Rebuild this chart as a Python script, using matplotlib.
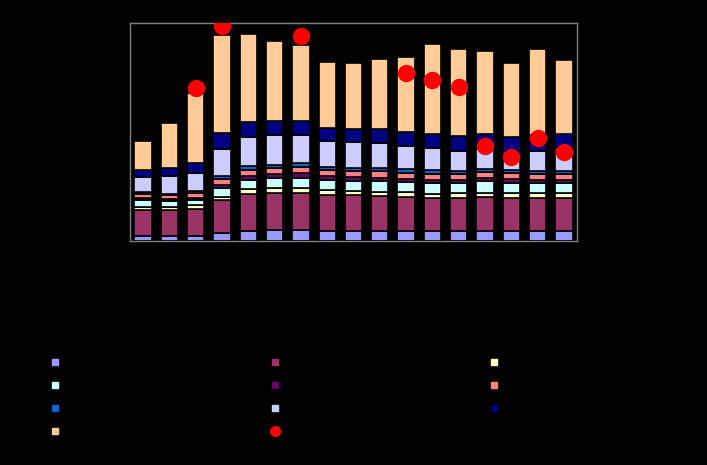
import numpy as np
import matplotlib
matplotlib.use("Agg")
import matplotlib.pyplot as plt
from matplotlib.lines import Line2D

# ---------------------------------------------------------------------------
# Data (y axis scaled 0-100)
# ---------------------------------------------------------------------------
categories = [str(y) for y in range(1990, 2007)]

series_names = ["Series 1", "Series 2", "Series 3", "Series 4", "Series 5",
                "Series 6", "Series 7", "Series 8", "Series 9", "Series 10"]
dot_name = "Series 11"

s1 = [2.5, 2.5, 2.5, 3.8, 4.8, 5.0, 5.0, 4.8, 4.8, 4.8, 4.8, 4.8, 4.8, 4.8, 4.8, 4.8, 4.8]
s2 = [11.7, 11.5, 12.1, 15.1, 16.8, 17.2, 17.1, 16.4, 16.3, 15.9, 15.6, 15.0, 15.1, 15.3, 15.1, 15.1, 15.1]
s3 = [1.5, 1.7, 1.7, 1.5, 2.1, 2.1, 2.1, 2.1, 2.0, 1.9, 1.9, 1.7, 1.9, 1.9, 2.2, 1.9, 1.9]
s4 = [3.2, 2.7, 2.7, 4.0, 4.3, 4.5, 4.8, 4.5, 4.5, 4.8, 4.7, 5.1, 4.8, 5.5, 4.6, 4.8, 4.8]
s5 = [0.8, 0.8, 0.8, 1.5, 1.9, 1.8, 2.0, 1.8, 1.7, 1.7, 1.5, 1.6, 1.4, 1.5, 1.6, 1.4, 1.4]
s6 = [1.9, 1.9, 2.4, 2.6, 2.8, 2.8, 3.0, 2.8, 2.8, 2.8, 2.9, 2.7, 2.6, 2.6, 2.7, 2.6, 2.6]
s7 = [0.8, 0.6, 0.7, 1.5, 1.8, 1.6, 1.6, 1.7, 1.6, 1.4, 1.4, 1.6, 1.7, 1.4, 1.6, 1.7, 1.7]
s8 = [7.0, 7.9, 8.5, 12.1, 13.3, 13.5, 13.0, 11.7, 11.7, 11.8, 11.0, 10.0, 9.2, 9.1, 8.3, 8.9, 10.5]
s9 = [3.3, 4.0, 4.5, 7.4, 6.6, 6.6, 6.6, 6.2, 6.2, 6.2, 6.3, 6.6, 6.8, 7.1, 7.0, 7.6, 6.1]
s10 = [13.1, 20.3, 32.2, 45.0, 40.5, 36.5, 34.6, 29.9, 29.9, 32.1, 34.5, 41.2, 39.6, 37.8, 33.7, 39.4, 33.9]

dots = [np.nan, np.nan, 70.0, 98.8, np.nan, np.nan, 93.9, np.nan, np.nan, np.nan,
        77.2, 73.7, 70.5, 43.7, 38.7, 47.1, 41.0]

colors = ["#9999FF", "#993366", "#FFFFCC", "#CCFFFF", "#660066",
          "#FF8080", "#0066CC", "#CCCCFF", "#000080", "#FFCC99"]
dot_color = "#FF0000"

# ---------------------------------------------------------------------------
# Plot
# ---------------------------------------------------------------------------
fig = plt.figure(figsize=(7.07, 4.65), dpi=100, facecolor="black")
ax = fig.add_axes([130 / 707, 1 - 241 / 465, 447 / 707, 218 / 465])
ax.set_facecolor("black")

x = np.arange(len(categories))
bottom = np.zeros(len(categories))
for vals, c in zip([s1, s2, s3, s4, s5, s6, s7, s8, s9, s10], colors):
    ax.bar(x, vals, width=0.66, bottom=bottom, color=c,
           edgecolor="black", linewidth=1.2, zorder=3)
    bottom += np.array(vals)

ax.plot(x, dots, linestyle="none", marker="o", markersize=11.5,
        color=dot_color, markeredgecolor=dot_color, zorder=4)

ax.set_xlim(-0.5, len(categories) - 0.5)
ax.set_ylim(0, 100)
for side in ["top", "right", "left", "bottom"]:
    ax.spines[side].set_color("#808080")
    ax.spines[side].set_linewidth(1.0)
ax.spines["bottom"].set_zorder(1)
ax.set_xticks(x)
ax.set_xticklabels(categories, rotation=90, color="black", fontsize=9)
ax.tick_params(axis="x", length=0, colors="black")
ax.tick_params(axis="y", length=0, colors="black", labelsize=9)

# Legend, three columns placed like the original
handles = [Line2D([], [], linestyle="none", marker="s", markersize=5,
                  color=c, markeredgecolor=c) for c in colors]
handles.append(Line2D([], [], linestyle="none", marker="o", markersize=7,
                      color=dot_color, markeredgecolor=dot_color))
labels = series_names + [dot_name]

columns = [[0, 3, 6, 9], [1, 4, 7, 10], [2, 5, 8]]
col_x = [48, 268, 487]
for idx, cx in zip(columns, col_x):
    fig.legend([handles[i] for i in idx], [labels[i] for i in idx],
               loc="upper left", bbox_to_anchor=(cx / 707, 1 - 356 / 465),
               frameon=False, fontsize=10, handlelength=1.0,
               handletextpad=0.8, borderpad=0, borderaxespad=0,
               labelspacing=0.65, labelcolor="black")

fig.savefig("out.png", dpi=100, facecolor="black")
